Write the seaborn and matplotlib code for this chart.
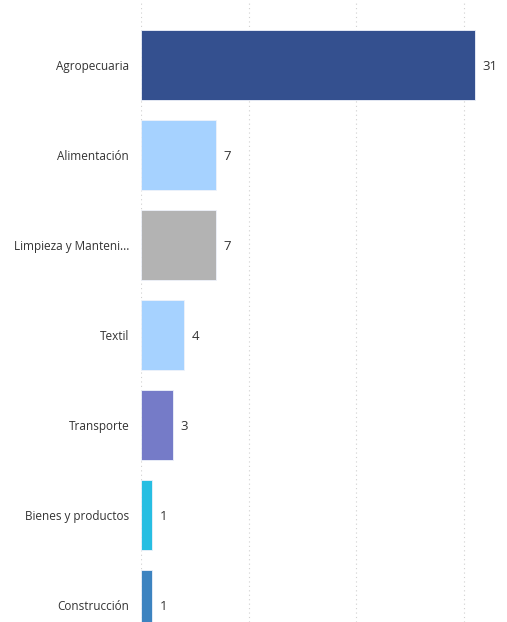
import matplotlib
matplotlib.use("Agg")
import matplotlib.pyplot as plt
import seaborn as sns
import pandas as pd

categorias = ["Agropecuaria", "Alimentación", "Limpieza y Manteni...", "Textil",
              "Transporte", "Bienes y productos", "Construcción"]
valores = [31, 7, 7, 4, 3, 1, 1]
colores = ["#34508f", "#a6d2ff", "#b3b3b3", "#a6d2ff", "#757bc8", "#27bee2", "#3d83c0"]

df = pd.DataFrame({"Categoria": categorias, "Valor": valores})

sns.set_style("white")
plt.rcParams["font.family"] = ["Open Sans", "DejaVu Sans"]

fig = plt.figure(figsize=(5.07, 6.22), dpi=100)
ax = fig.add_axes([141 / 507, 0, 366 / 507, 1])

sns.barplot(data=df, x="Valor", y="Categoria", hue="Categoria", palette=colores,
            saturation=1, legend=False, width=0.78, edgecolor="#eef2fa",
            linewidth=0.6, ax=ax)

ax.set_xlim(0, 34)
ax.set_ylim(6.19, -0.72)
ax.set_xticks([0, 10, 20, 30])
ax.xaxis.grid(True, linestyle=(0, (1, 3)), color="#d0d0d0", linewidth=0.8)
ax.set_axisbelow(True)
ax.tick_params(axis="x", bottom=False, labelbottom=False)
ax.tick_params(axis="y", left=False, labelsize=8.5, labelcolor="#333333", pad=5)
ax.set_xlabel("")
ax.set_ylabel("")
for s in ax.spines.values():
    s.set_visible(False)

for i, v in enumerate(valores):
    ax.text(v + 0.7, i, str(v), va="center_baseline", ha="left",
            fontsize=9.5, color="#333333")

fig.savefig("out.png", dpi=100)
